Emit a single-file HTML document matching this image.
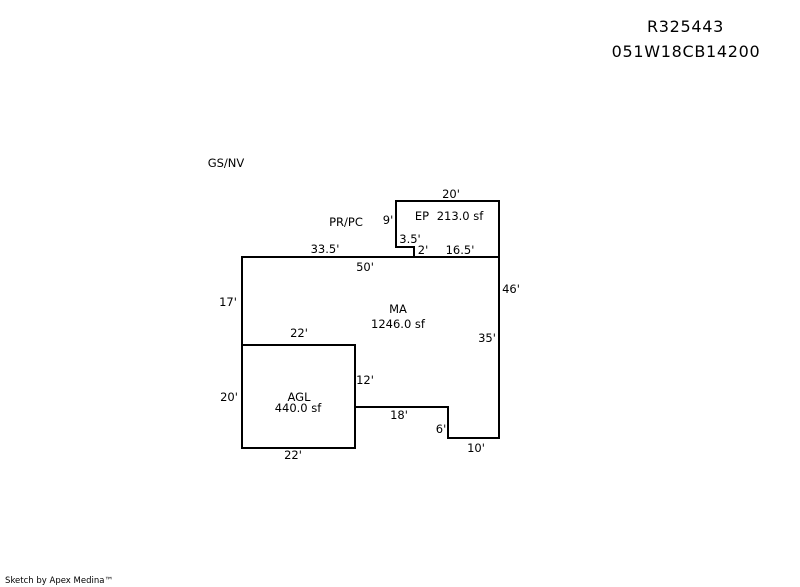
<!DOCTYPE html>
<html>
<head>
<meta charset="utf-8">
<style>
html,body{margin:0;padding:0;background:#fff;}
body{width:800px;height:587px;overflow:hidden;position:relative;}
svg{position:absolute;left:0;top:0;}
text{font-family:"DejaVu Sans",Verdana,sans-serif;font-size:11.5px;fill:#000;text-anchor:middle;}
</style>
</head>
<body>
<svg width="800" height="587" viewBox="0 0 800 587">
<g fill="none" stroke="#000" stroke-width="2" shape-rendering="crispEdges">
<path d="M242 345V257H414V247H396V201H499V438H448V407H355"/>
<path d="M414 257H499"/>
<rect x="242" y="345" width="113" height="103"/>
</g>
<text x="685.500" y="32" style="font-size:16px;letter-spacing:.7px">R325443</text>
<text x="686" y="57" style="font-size:16px;letter-spacing:.7px">051W18CB14200</text>
<text x="226" y="167">GS/NV</text>
<text x="346" y="226">PR/PC</text>
<text x="451" y="198">20'</text>
<text x="388" y="224">9'</text>
<text x="422" y="220">EP</text>
<text x="460" y="220">213.0 sf</text>
<text x="410" y="243">3.5'</text>
<text x="325" y="253">33.5'</text>
<text x="423" y="254">2'</text>
<text x="460" y="254">16.5'</text>
<text x="365" y="271">50'</text>
<text x="228" y="306">17'</text>
<text x="511" y="293">46'</text>
<text x="398" y="313">MA</text>
<text x="398" y="328">1246.0 sf</text>
<text x="487" y="342">35'</text>
<text x="299" y="337">22'</text>
<text x="365" y="384">12'</text>
<text x="229" y="401">20'</text>
<text x="299" y="401">AGL</text>
<text x="298" y="412">440.0 sf</text>
<text x="399" y="419">18'</text>
<text x="441" y="433">6'</text>
<text x="476" y="452">10'</text>
<text x="293" y="459">22'</text>
<text x="59" y="583" style="font-size:8.5px">Sketch by Apex Medina™</text>
</svg>
</body>
</html>
